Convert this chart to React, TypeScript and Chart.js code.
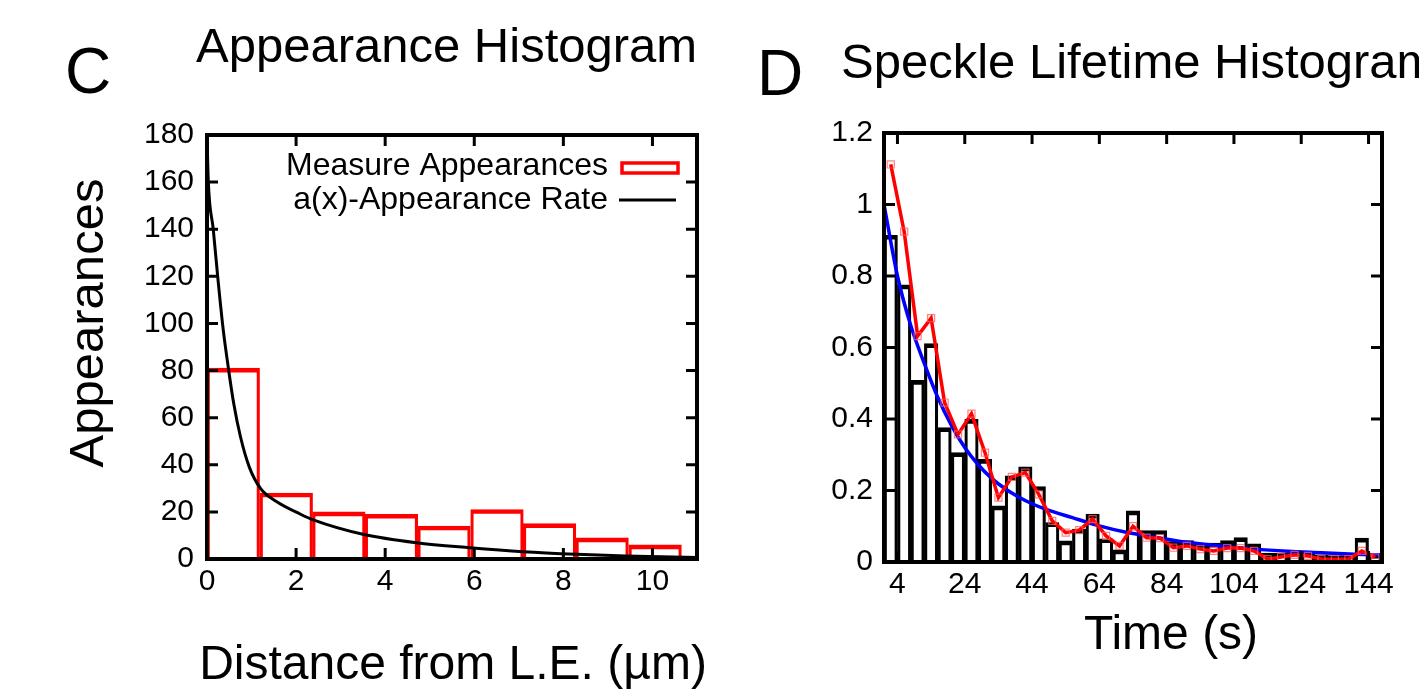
import React, { useEffect, useRef } from 'react';
import { Chart, registerables } from 'chart.js';

Chart.register(...registerables);

const FONT = "'Liberation Sans', Arial, Helvetica, sans-serif";

// ---------- Panel C : Appearance Histogram ----------
const C_BIN_CENTERS = [0.59, 1.78, 2.96, 4.14, 5.32, 6.51, 7.69, 8.87, 10.06];
const C_COUNTS = [81, 28, 20, 19, 14, 21, 15, 9, 6];
const C_RATE_X = [0, 0.03, 0.14, 0.25, 0.36, 0.48, 0.6, 0.75, 0.95, 1.2, 1.55, 2.1, 2.4, 3.5, 4.7, 5.9, 7.1, 8.3, 9.4, 11];
const C_RATE_Y = [180, 160, 140, 118, 98, 81, 66, 52, 39, 30, 24.5, 19, 16.5, 10.5, 6.9, 4.8, 3.1, 2.0, 1.3, 0.6];
const C_X_TICKS = [0, 2, 4, 6, 8, 10];
const C_Y_TICKS = [0, 20, 40, 60, 80, 100, 120, 140, 160, 180];

// ---------- Panel D : Speckle Lifetime Histogram ----------
const D_BIN_CENTERS = [2, 6, 10, 14, 18, 22, 26, 30, 34, 38, 42, 46, 50, 54, 58, 62, 66, 70, 74, 78, 82, 86, 90, 94, 98, 102, 106, 110, 114, 118, 122, 126, 130, 134, 138, 142, 146];
const D_HIST = [0.914, 0.775, 0.508, 0.611, 0.376, 0.306, 0.399, 0.287, 0.157, 0.241, 0.266, 0.211, 0.11, 0.059, 0.092, 0.134, 0.065, 0.034, 0.143, 0.088, 0.088, 0.057, 0.06, 0.052, 0.053, 0.06, 0.068, 0.051, 0.025, 0.025, 0.028, 0.028, 0.02, 0.018, 0.018, 0.067, 0.022];
const D_SMOOTH = [1.112, 0.924, 0.632, 0.682, 0.446, 0.357, 0.415, 0.306, 0.18, 0.238, 0.25, 0.189, 0.115, 0.082, 0.089, 0.12, 0.073, 0.045, 0.1, 0.068, 0.067, 0.04, 0.045, 0.036, 0.031, 0.039, 0.039, 0.031, 0.008, 0.014, 0.02, 0.017, 0.008, 0.008, 0.008, 0.031, 0.013];
const D_FIT_X = [0, 4, 8, 12, 16, 20, 24, 28, 32, 36, 40, 44, 48, 56, 64, 72, 80, 90, 100, 110, 120, 130, 140, 148];
const D_FIT_Y = [1.0, 0.8, 0.66, 0.555, 0.46, 0.383, 0.32, 0.272, 0.234, 0.205, 0.182, 0.163, 0.148, 0.124, 0.101, 0.083, 0.07, 0.055, 0.045, 0.036, 0.03, 0.026, 0.022, 0.02];
const D_X_TICKS = [4, 24, 44, 64, 84, 104, 124, 144];
const D_Y_TICKS = [0, 0.2, 0.4, 0.6, 0.8, 1, 1.2];

const framePlugin = {
  id: 'frame',
  afterDatasetsDraw(chart: any) {
    const { ctx, chartArea: a, scales } = chart;
    const x = scales.x;
    const y = scales.y;
    ctx.save();
    ctx.strokeStyle = '#000';
    ctx.lineWidth = 3;
    ctx.beginPath();
    for (const t of x.ticks) {
      const px = x.getPixelForValue(t.value);
      ctx.moveTo(px, a.bottom);
      ctx.lineTo(px, a.bottom - 11);
      ctx.moveTo(px, a.top);
      ctx.lineTo(px, a.top + 11);
    }
    for (const t of y.ticks) {
      const py = y.getPixelForValue(t.value);
      ctx.moveTo(a.left, py);
      ctx.lineTo(a.left + 11, py);
      ctx.moveTo(a.right, py);
      ctx.lineTo(a.right - 11, py);
    }
    ctx.stroke();
    ctx.lineWidth = 4;
    ctx.strokeRect(a.left, a.top, a.right - a.left, a.bottom - a.top);
    ctx.restore();
  },
};

const cLegendPlugin = {
  id: 'cLegend',
  afterDraw(chart: any) {
    const { ctx } = chart;
    ctx.save();
    ctx.font = `32px ${FONT}`;
    ctx.fillStyle = '#000';
    ctx.textAlign = 'right';
    ctx.textBaseline = 'alphabetic';
    ctx.fillText('Measure Appearances', 608, 175);
    ctx.fillText('a(x)-Appearance Rate', 608, 209);
    ctx.strokeStyle = '#ff0000';
    ctx.lineWidth = 3.5;
    ctx.strokeRect(622, 163, 56, 10);
    ctx.strokeStyle = '#000';
    ctx.lineWidth = 3;
    ctx.beginPath();
    ctx.moveTo(619, 200);
    ctx.lineTo(676, 200);
    ctx.stroke();
    ctx.restore();
  },
};

const tickFont = { family: FONT, size: 30 };

function axisX(min: number, max: number, ticks: number[], pad: number) {
  return {
    type: 'linear',
    min,
    max,
    offset: false,
    grid: { display: false, drawTicks: false, offset: false },
    border: { display: false },
    ticks: { font: tickFont, color: '#000', padding: pad, maxRotation: 0, autoSkip: false, callback: (v: any) => String(v) },
    afterBuildTicks: (s: any) => { s.ticks = ticks.map((v) => ({ value: v })); },
    afterFit: (s: any) => { s.height = 40; },
  };
}

function axisY(min: number, max: number, ticks: number[], pad: number, width: number) {
  return {
    type: 'linear',
    min,
    max,
    grid: { display: false, drawTicks: false },
    border: { display: false },
    ticks: { font: tickFont, color: '#000', padding: pad, autoSkip: false, callback: (v: any) => String(v) },
    afterBuildTicks: (s: any) => { s.ticks = ticks.map((v) => ({ value: v })); },
    afterFit: (s: any) => { s.width = width; },
  };
}

function buildC(): any {
  return {
    type: 'bar',
    data: {
      datasets: [
        {
          type: 'line',
          label: 'a(x)-Appearance Rate',
          data: C_RATE_X.map((x, i) => ({ x, y: C_RATE_Y[i] })),
          borderColor: '#000',
          borderWidth: 3,
          pointRadius: 0,
          cubicInterpolationMode: 'monotone',
          order: 0,
        },
        {
          type: 'bar',
          label: 'Measure Appearances',
          data: C_BIN_CENTERS.map((x, i) => ({ x, y: C_COUNTS[i] })),
          backgroundColor: 'rgba(0,0,0,0)',
          borderColor: '#ff0000',
          borderWidth: { top: 4, left: 2.5, right: 2.5, bottom: 0 },
          borderSkipped: false,
          barPercentage: 1,
          categoryPercentage: 1,
          order: 1,
        },
      ],
    },
    options: {
      responsive: false,
      maintainAspectRatio: false,
      animation: false,
      devicePixelRatio: 1,
      layout: { padding: { left: 0, right: 43, top: 135, bottom: 100 } },
      plugins: { legend: { display: false }, tooltip: { enabled: false }, title: { display: false } },
      scales: {
        x: axisX(0, 11, C_X_TICKS, 5),
        y: axisY(0, 180, C_Y_TICKS, 13, 207),
      },
    },
    plugins: [framePlugin, cLegendPlugin],
  };
}

function buildD(): any {
  return {
    type: 'bar',
    data: {
      datasets: [
        {
          type: 'line',
          label: 'smoothed',
          data: D_BIN_CENTERS.map((x, i) => ({ x, y: D_SMOOTH[i] })),
          borderColor: '#ff0000',
          borderWidth: 3.5,
          pointStyle: 'rect',
          pointRadius: 5,
          pointBorderWidth: 1.2,
          pointBorderColor: 'rgba(255,90,90,0.75)',
          pointBackgroundColor: 'rgba(0,0,0,0)',
          tension: 0,
          order: 0,
        },
        {
          type: 'line',
          label: 'fit',
          data: D_FIT_X.map((x, i) => ({ x, y: D_FIT_Y[i] })),
          borderColor: '#0000ff',
          borderWidth: 3.5,
          pointRadius: 0,
          cubicInterpolationMode: 'monotone',
          order: 1,
        },
        {
          type: 'bar',
          label: 'histogram',
          data: D_BIN_CENTERS.map((x, i) => ({ x, y: D_HIST[i] })),
          backgroundColor: 'rgba(0,0,0,0)',
          borderColor: '#000',
          borderWidth: { top: 4, left: 2.5, right: 2.5, bottom: 0 },
          borderSkipped: false,
          barPercentage: 1,
          categoryPercentage: 1,
          order: 2,
        },
      ],
    },
    options: {
      responsive: false,
      maintainAspectRatio: false,
      animation: false,
      devicePixelRatio: 1,
      layout: { padding: { left: 0, right: 37, top: 133, bottom: 97 } },
      plugins: { legend: { display: false }, tooltip: { enabled: false }, title: { display: false } },
      scales: {
        x: axisX(0, 148, D_X_TICKS, 5),
        y: axisY(0, 1.2, D_Y_TICKS, 11, 144),
      },
    },
    plugins: [framePlugin],
  };
}

function ChartCanvas({ left, width, height, build }: { left: number; width: number; height: number; build: () => any }) {
  const ref = useRef<HTMLCanvasElement>(null);
  useEffect(() => {
    const chart = new Chart(ref.current as HTMLCanvasElement, build());
    return () => chart.destroy();
  }, []);
  return (
    <canvas
      ref={ref}
      width={width}
      height={height}
      style={{ position: 'absolute', left, top: 0, width, height }}
    />
  );
}

function Label({ text, left, baseline, size, center }: { text: string; left: number; baseline: number; size: number; center?: boolean }) {
  return (
    <div
      style={{
        position: 'absolute',
        left,
        top: baseline - 0.8465 * size,
        fontFamily: FONT,
        fontSize: size,
        lineHeight: 1,
        whiteSpace: 'nowrap',
        color: '#000',
        transform: center ? 'translateX(-50%)' : undefined,
      }}
    >
      {text}
    </div>
  );
}

export default function App() {
  return (
    <div
      style={{
        position: 'absolute',
        left: 0,
        top: 0,
        width: 1419,
        height: 699,
        overflow: 'hidden',
        background: '#fff',
      }}
    >
      <ChartCanvas left={0} width={740} height={699} build={buildC} />
      <ChartCanvas left={740} width={679} height={699} build={buildD} />
      <Label text="C" left={65} baseline={93} size={64} />
      <Label text="D" left={757} baseline={95} size={64} />
      <Label text="Appearance Histogram" left={196} baseline={62} size={49} />
      <Label text="Speckle Lifetime Histogram" left={841} baseline={78} size={49} />
      <Label text="Distance from L.E. (µm)" left={453} baseline={680} size={48} center />
      <Label text="Time (s)" left={1171} baseline={650} size={48} center />
      <div
        style={{
          position: 'absolute',
          left: 86,
          top: 323,
          fontFamily: FONT,
          fontSize: 49,
          lineHeight: 1,
          whiteSpace: 'nowrap',
          color: '#000',
          transform: 'translate(-50%, -50%) rotate(-90deg)',
        }}
      >
        Appearances
      </div>
    </div>
  );
}
